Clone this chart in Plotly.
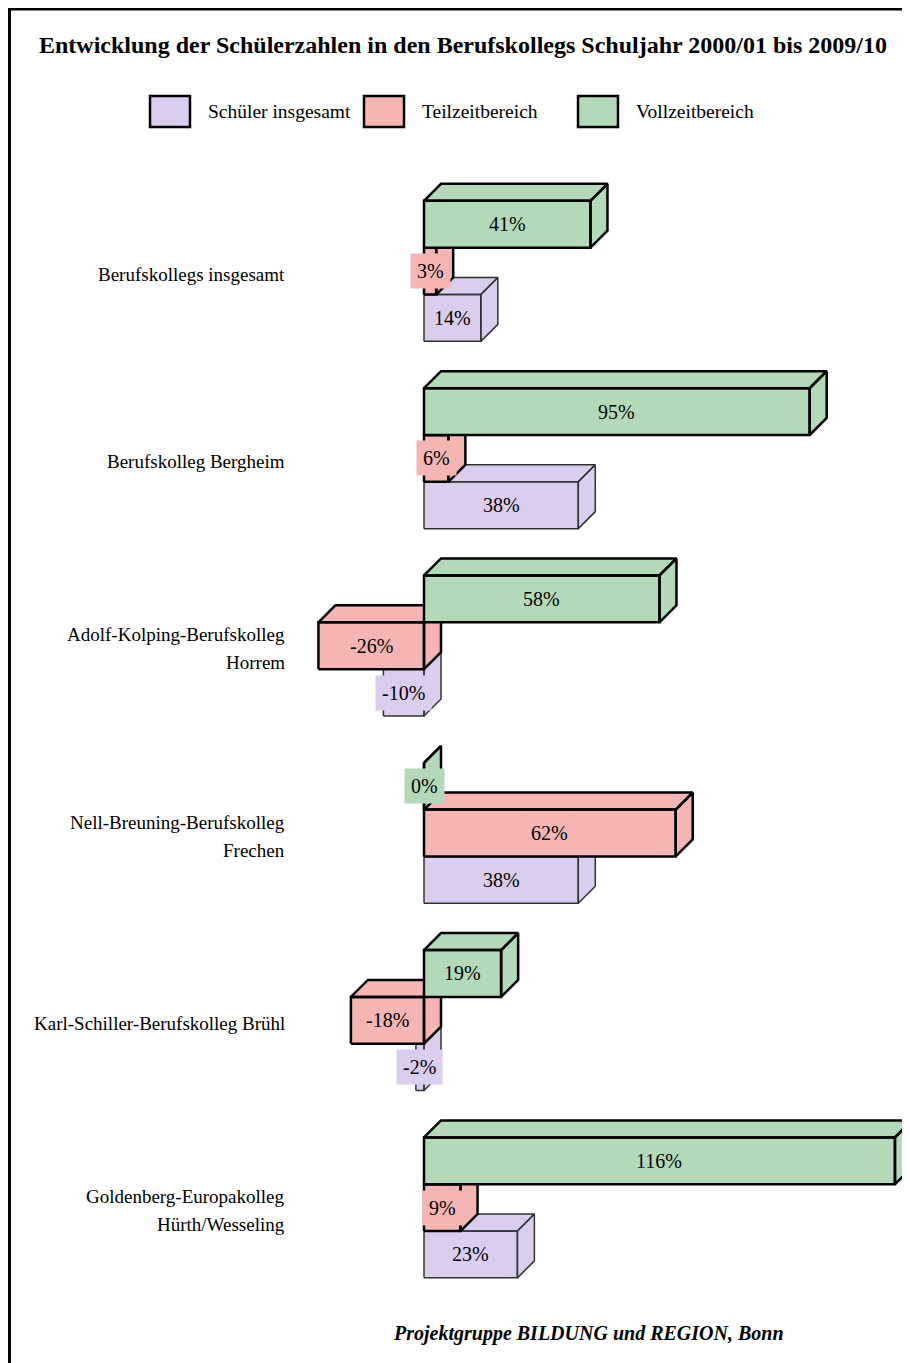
import plotly.graph_objects as go

# --- Data ---
categories = [
    "Berufskollegs insgesamt",
    "Berufskolleg Bergheim",
    "Adolf-Kolping-Berufskolleg\nHorrem",
    "Nell-Breuning-Berufskolleg\nFrechen",
    "Karl-Schiller-Berufskolleg Brühl",
    "Goldenberg-Europakolleg\nHürth/Wesseling",
]
schueler = [14, 38, -10, 38, -2, 23]     # Schüler insgesamt (%)
teilzeit = [3, 6, -26, 62, -18, 9]       # Teilzeitbereich (%)
vollzeit = [41, 95, 58, 0, 19, 116]      # Vollzeitbereich (%)

series_names = ["Schüler insgesamt", "Teilzeitbereich", "Vollzeitbereich"]
series_colors = ["#dacdee", "#f5b5b5", "#b4d9b9"]

TITLE = "Entwicklung der Schülerzahlen in den Berufskollegs Schuljahr 2000/01 bis 2009/10"
FOOTER = "Projektgruppe BILDUNG und REGION, Bonn"
FONT = "Liberation Serif, Times New Roman, serif"

# --- Page geometry (page has an 8px body margin) ---
OFF = 8
W, H = 910 - OFF, 1363 - OFF
ML, MR, MT, MB = 302 - OFF, 0, 140 - OFF, 43
ZERO_PX = 424 - OFF
PX_PER_PCT = 4.06
X_MIN = -(ZERO_PX - ML) / PX_PER_PCT
X_MAX = (W - MR - ZERO_PX) / PX_PER_PCT
Y_RANGE = [5.6, -0.7]
PX_PER_GROUP = (H - MT - MB) / (Y_RANGE[0] - Y_RANGE[1])

BAR_H = 0.25                      # thickness of one bar in group units
DX = 17 / PX_PER_PCT              # 3D depth, horizontal
DY = 17 / PX_PER_GROUP            # 3D depth, vertical


def px2x(px):
    """page pixel -> paper x"""
    return (px - OFF - ML) / (W - ML - MR)


def px2y(py):
    """page pixel -> paper y"""
    return 1 - (py - OFF - MT) / (H - MT - MB)


def box_path(values, offset):
    """front, top and side face of every box, separated by None"""
    xs, ys = [], []
    for i, v in enumerate(values):
        yc = i + offset
        lo, hi = min(0, v), max(0, v)
        yt, yb = yc - BAR_H / 2, yc + BAR_H / 2
        faces = [
            [(lo, yb), (lo, yt), (hi, yt), (hi, yb), (lo, yb)],
            [(lo, yt), (lo + DX, yt - DY), (hi + DX, yt - DY), (hi, yt), (lo, yt)],
            [(hi, yt), (hi + DX, yt - DY), (hi + DX, yb - DY), (hi, yb), (hi, yt)],
        ]
        for face in faces:
            xs += [p[0] for p in face] + [None]
            ys += [p[1] for p in face] + [None]
    return xs, ys


fig = go.Figure()

# bottom bar first so that the bar above hides its top face
layers = [
    (schueler, BAR_H, series_colors[0], 1.5, "#333333"),
    (teilzeit, 0.0, series_colors[1], 2.5, "black"),
    (vollzeit, -BAR_H, series_colors[2], 2.5, "black"),
]
for values, offset, color, lw, lc in layers:
    xs, ys = box_path(values, offset)
    fig.add_trace(go.Scatter(
        x=xs, y=ys, mode="lines", fill="toself",
        fillcolor=color, line=dict(color=lc, width=lw),
        hoverinfo="skip", showlegend=False,
    ))

annotations = []

# value labels on the front faces
for values, offset, color, _, _ in layers:
    for i, v in enumerate(values):
        annotations.append(dict(
            x=v / 2, y=i + offset, xref="x", yref="y",
            xanchor="center", yanchor="middle",
            text=f"{v}%", showarrow=False, bgcolor=color, borderpad=6,
            font=dict(family=FONT, size=20, color="black"),
        ))

# category labels
for i, cat in enumerate(categories):
    lines = cat.split("\n")
    for j, line in enumerate(lines):
        annotations.append(dict(
            x=px2x(287), y=i, xref="paper", yref="y",
            xanchor="right", yanchor="middle", text=line, showarrow=False,
            yshift=-3 - (j - (len(lines) - 1) / 2) * 28,
            font=dict(family=FONT, size=19, color="black"),
        ))

# title and footer
annotations.append(dict(
    x=px2x(463), y=px2y(45), xref="paper", yref="paper",
    xanchor="center", yanchor="middle",
    text=f"<b>{TITLE}</b>", showarrow=False,
    font=dict(family=FONT, size=24, color="black"),
))
annotations.append(dict(
    x=px2x(588), y=px2y(1333), xref="paper", yref="paper",
    xanchor="center", yanchor="middle",
    text=f"<b><i>{FOOTER}</i></b>", showarrow=False,
    font=dict(family=FONT, size=20, color="black"),
))

# legend drawn by hand (boxes + text)
shapes = []
legend_left = [150, 364, 578]
for name, color, left in zip(series_names, series_colors, legend_left):
    shapes.append(dict(
        type="rect", xref="paper", yref="paper",
        x0=px2x(left), x1=px2x(left + 40), y0=px2y(96), y1=px2y(127),
        fillcolor=color, line=dict(color="black", width=2.5),
    ))
    annotations.append(dict(
        x=px2x(left + 56), y=px2y(112), xref="paper", yref="paper",
        xanchor="left", yanchor="middle", text=name, showarrow=False,
        font=dict(family=FONT, size=19.5, color="black"),
    ))

# frame (only left and top edges are inside the picture)
shapes.append(dict(type="line", xref="paper", yref="paper",
                   x0=px2x(9.5), x1=px2x(9.5), y0=px2y(OFF), y1=px2y(1400),
                   line=dict(color="black", width=3)))
shapes.append(dict(type="line", xref="paper", yref="paper",
                   x0=px2x(8), x1=px2x(950), y0=px2y(OFF + 1), y1=px2y(OFF + 1),
                   line=dict(color="black", width=3)))

fig.update_layout(
    width=W, height=H,
    margin=dict(l=ML, r=MR, t=MT, b=MB),
    plot_bgcolor="white", paper_bgcolor="white",
    showlegend=False,
    xaxis=dict(range=[X_MIN, X_MAX], visible=False, fixedrange=True),
    yaxis=dict(range=Y_RANGE, visible=False, fixedrange=True),
    annotations=annotations,
    shapes=shapes,
)

fig.write_html("out.html")
